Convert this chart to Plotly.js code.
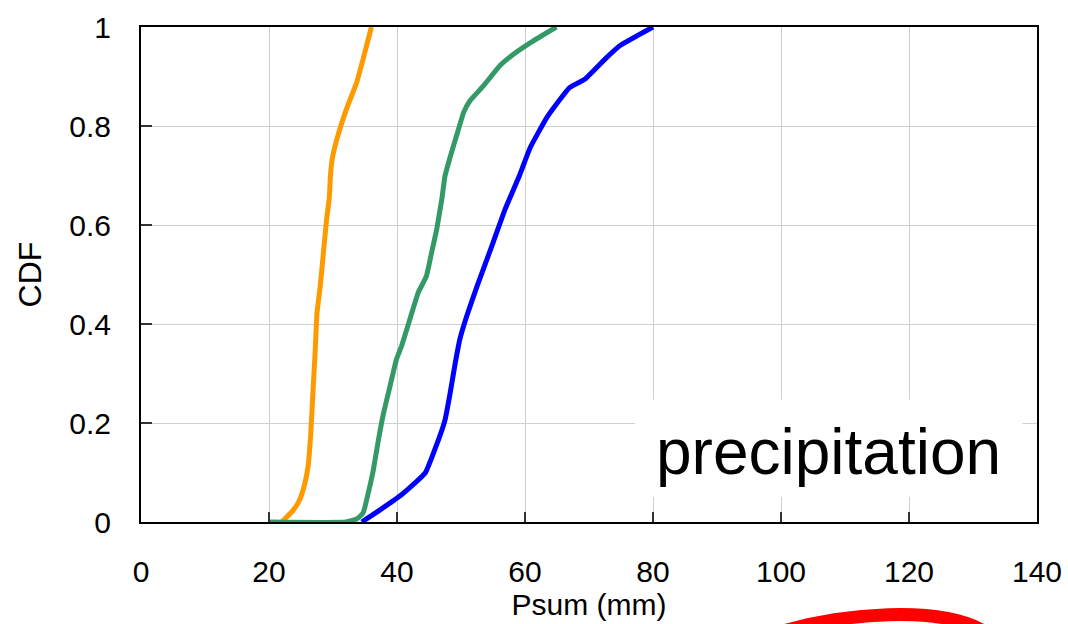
<!DOCTYPE html>
<html>
<head>
<meta charset="utf-8">
<script src="https://cdn.plot.ly/plotly-3.0.1.min.js"></script>
<style>html,body{margin:0;padding:0;background:#fff;}#chart{width:1068px;height:624px;}</style>
</head>
<body>
<div id="chart"></div>
<script>
// Series: orange
const orangeX = [22.0, 23.8, 24.8, 25.6, 26.1, 26.5, 26.9, 27.2, 27.5, 28.0, 28.5, 29.0, 29.4, 29.5, 29.6, 29.9, 30.6, 32.1, 33.7, 34.7, 36.0];
const orangeY = [0, 0.024, 0.045, 0.078, 0.112, 0.173, 0.27, 0.341, 0.422, 0.476, 0.544, 0.611, 0.652, 0.672, 0.70, 0.735, 0.773, 0.834, 0.888, 0.935, 1.0];
// Series: green
const greenX = [20.0, 32.0, 33.7, 34.7, 35.5, 36.3, 37.1, 37.9, 38.9, 39.9, 40.7, 42.0, 43.3, 44.6, 45.4, 46.2, 47.0, 47.5, 48.5, 49.6, 50.4, 51.4, 53.5, 56.1, 58.2, 61.3, 64.9];
const greenY = [0, 0, 0.006, 0.018, 0.058, 0.105, 0.166, 0.22, 0.274, 0.328, 0.355, 0.409, 0.463, 0.497, 0.544, 0.591, 0.652, 0.699, 0.746, 0.793, 0.827, 0.851, 0.881, 0.922, 0.945, 0.972, 1.0];
// Series: blue
const blueX = [34.5, 37.3, 40.7, 44.4, 45.9, 47.5, 48.3, 49.1, 49.8, 50.9, 52.5, 55.0, 56.9, 59.2, 60.8, 63.4, 64.9, 67.0, 69.4, 72.5, 74.8, 80.0];
const blueY = [0, 0.024, 0.055, 0.099, 0.146, 0.206, 0.26, 0.321, 0.368, 0.416, 0.476, 0.564, 0.632, 0.702, 0.756, 0.817, 0.844, 0.878, 0.895, 0.935, 0.962, 1.0];

const xTicks = [0, 20, 40, 60, 80, 100, 120, 140];
const yTicks = [0, 0.2, 0.4, 0.6, 0.8, 1];
const yTickText = ['0', '0.2', '0.4', '0.6', '0.8', '1'];
const labelText = 'precipitation';

const FONT = 'Arial, "Liberation Sans", sans-serif';

const traces = [
  {x: orangeX, y: orangeY, type: 'scatter', mode: 'lines', line: {color: '#ff9900', width: 5, shape: 'spline', smoothing: 0.4}, showlegend: false, hoverinfo: 'skip'},
  {x: greenX, y: greenY, type: 'scatter', mode: 'lines', line: {color: '#339966', width: 5, shape: 'spline', smoothing: 0.4}, showlegend: false, hoverinfo: 'skip'},
  {x: blueX, y: blueY, type: 'scatter', mode: 'lines', line: {color: '#0000ff', width: 5, shape: 'spline', smoothing: 0.4}, showlegend: false, hoverinfo: 'skip'}
];

const layout = {
  width: 1068, height: 624,
  margin: {l: 141, r: 31, t: 27, b: 102, pad: 0},
  paper_bgcolor: '#ffffff', plot_bgcolor: '#ffffff',
  font: {family: FONT, color: '#000000', size: 30},
  showlegend: false,
  xaxis: {
    range: [0, 140], tickvals: xTicks, ticktext: xTicks.map(String),
    ticks: 'inside', ticklen: 10, tickwidth: 1.5, tickcolor: '#333333',
    showgrid: true, gridcolor: '#d0d0d0', gridwidth: 1,
    showline: true, linecolor: '#000000', linewidth: 2, mirror: true,
    zeroline: false, tickfont: {size: 30, family: FONT},
    ticklabelstandoff: 22,
    title: {text: 'Psum (mm)', font: {size: 30, family: FONT}, standoff: 2},
    fixedrange: true
  },
  yaxis: {
    range: [0, 1], tickvals: yTicks, ticktext: yTickText,
    ticks: 'inside', ticklen: 11, tickwidth: 1.5, tickcolor: '#333333',
    showgrid: true, gridcolor: '#d0d0d0', gridwidth: 1,
    showline: true, linecolor: '#000000', linewidth: 2, mirror: true,
    zeroline: false, tickfont: {size: 30, family: FONT},
    ticklabelstandoff: 22,
    title: {text: 'CDF', font: {size: 32, family: FONT}, standoff: 18},
    fixedrange: true
  },
  shapes: [
    {type: 'rect', xref: 'x', yref: 'y', x0: 77.2, x1: 137.7, y0: 0.0506, y1: 0.247,
     fillcolor: '#ffffff', line: {width: 0}, layer: 'above'},
    {type: 'path', xref: 'paper', yref: 'paper',
     path: 'M 0.7132,-0.2222 C 0.7801,-0.1859 0.8917,-0.1657 0.9420,-0.2222',
     line: {color: '#ff0000', width: 13}, fillcolor: 'rgba(0,0,0,0)', layer: 'above'}
  ],
  annotations: [
    {text: labelText, xref: 'x', yref: 'y', x: 107.4, y: 0.142, xanchor: 'center', yanchor: 'middle',
     showarrow: false, font: {size: 64, family: FONT, color: '#000000'}}
  ]
};

Plotly.newPlot('chart', traces, layout, {staticPlot: true, displayModeBar: false});
</script>
</body>
</html>
